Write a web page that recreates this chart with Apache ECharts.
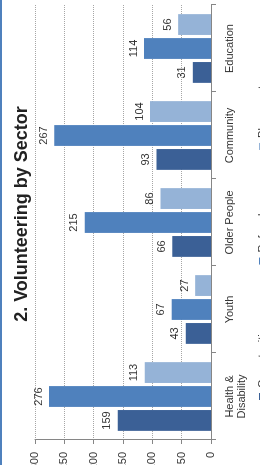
<!DOCTYPE html>
<html>
<head>
<meta charset="utf-8">
<script src="https://cdn.jsdelivr.net/npm/echarts@6/dist/echarts.min.js"></script>
<style>
  html, body { margin: 0; padding: 0; background: #ffffff; width: 260px; height: 465px; overflow: hidden; position: relative; }
  #edge { position: absolute; left: 0; top: 0; width: 2px; height: 465px; background: #4f81bd; z-index: 2; }
  #chart { position: absolute; left: 0; top: 0; width: 532px; height: 280px; transform-origin: 0 0; transform: translate(0px, 480px) rotate(-90deg); }
</style>
</head>
<body>
<div id="edge"></div>
<div id="chart"></div>
<script>
const titleText = '2. Volunteering by Sector';
const categories = ['Health &\nDisability', 'Youth', 'Older People', 'Community', 'Education'];
const seriesNames = ['Opportunities', 'Referrals', 'Placements'];
const opportunities = [159, 43, 66, 93, 31];
const referrals = [276, 67, 215, 267, 114];
const placements = [113, 27, 86, 104, 56];
const valueMin = 0, valueMax = 300, valueStep = 50;
const colors = ['#3b6096', '#4f81bd', '#95b3d7'];

const chart = echarts.init(document.getElementById('chart'), null, { renderer: 'canvas' });
const labelStyle = { show: true, position: 'top', distance: 5, fontSize: 11, color: '#333333' };
const values = [opportunities, referrals, placements];
chart.setOption({
  animation: false,
  backgroundColor: '#ffffff',
  textStyle: { fontFamily: 'Liberation Sans, Arial, sans-serif' },
  color: colors,
  title: {
    text: titleText, left: 'center', top: 8,
    textStyle: { fontSize: 18, fontWeight: 'bold', color: '#222222', fontFamily: 'Liberation Sans, Arial, sans-serif' }
  },
  legend: {
    data: seriesNames, left: 75, top: 252, itemWidth: 7, itemHeight: 7, itemGap: 58,
    icon: 'rect', textStyle: { fontSize: 11, color: '#333333' }
  },
  grid: { left: 40, right: 57, top: 35, bottom: 69, containLabel: false },
  xAxis: {
    type: 'category', data: categories,
    axisLine: { lineStyle: { color: '#868686', width: 1 } },
    axisTick: { show: true, length: 5, lineStyle: { color: '#868686' } },
    axisLabel: { fontSize: 11, color: '#333333', margin: 13, lineHeight: 12 }
  },
  yAxis: {
    type: 'value', min: valueMin, max: valueMax, interval: valueStep,
    axisLine: { show: true, lineStyle: { color: '#868686', width: 1 } },
    axisTick: { show: true, length: 4, lineStyle: { color: '#868686' } },
    splitLine: { show: true, lineStyle: { color: '#a6a6a6', type: [1, 1] } },
    axisLabel: { fontSize: 11, color: '#333333', margin: 12 }
  },
  series: seriesNames.map((name, i) => ({
    name: name, type: 'bar', data: values[i],
    barGap: '15%', barCategoryGap: '21%',
    label: labelStyle
  }))
});
</script>
</body>
</html>
